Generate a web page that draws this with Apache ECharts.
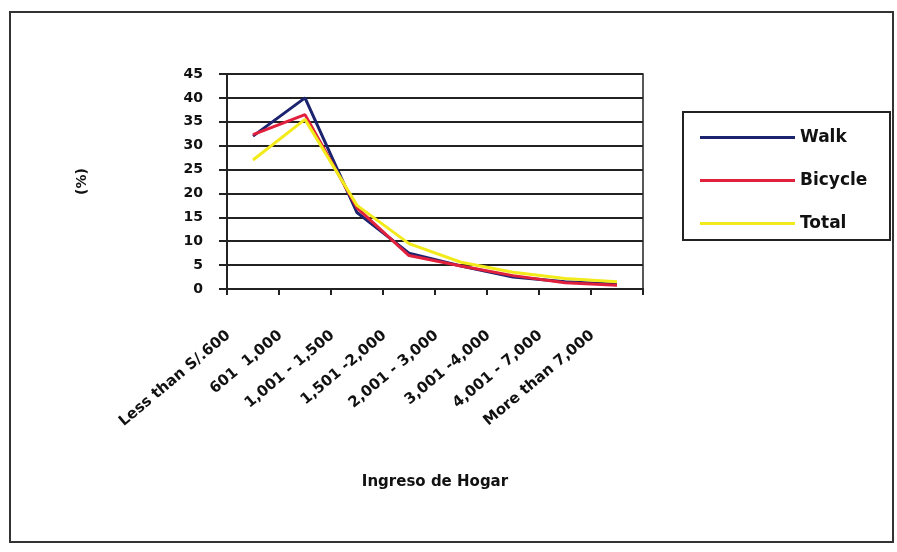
<!DOCTYPE html>
<html>
<head>
<meta charset="utf-8">
<script src="https://cdn.jsdelivr.net/npm/echarts@6/dist/echarts.min.js"></script>
<style>html,body{margin:0;padding:0;background:#fff;}#c{width:897px;height:552px;}</style>
</head>
<body>
<div id="c"></div>
<script>
const categories = ["Less than S/.600", "601  1,000", "1,001 - 1,500", "1,501 -2,000", "2,001 - 3,000", "3,001 -4,000", "4,001 - 7,000", "More than 7,000"];
const walk = [32, 40, 16, 7.5, 4.8, 2.5, 1.5, 1];
const bicycle = [32.3, 36.5, 17, 7, 4.8, 2.8, 1.3, 0.8];
const total = [27, 35.5, 17.5, 9.5, 5.6, 3.5, 2.2, 1.5];
const yTicks = [0, 5, 10, 15, 20, 25, 30, 35, 40, 45];

const FONT = "DejaVu Sans";
const chart = echarts.init(document.getElementById('c'), null, {renderer: 'canvas'});
chart.setOption({
  animation: false,
  backgroundColor: '#fff',
  graphic: [
    {type: 'rect', shape: {x: 10, y: 12, width: 883, height: 530}, style: {fill: 'none', stroke: '#333', lineWidth: 2}, z: -1},
    {type: 'rect', shape: {x: 683, y: 112, width: 207, height: 128}, style: {fill: '#fff', stroke: '#222', lineWidth: 2}, z: 0}
  ],
  grid: {left: 227, right: 254, top: 74, bottom: 263, show: true, borderColor: '#222', borderWidth: 1.5, backgroundColor: 'transparent'},
  legend: {
    orient: 'vertical', left: 695, top: 124, itemGap: 26, itemWidth: 95, itemHeight: 3,
    icon: 'rect', z: 5,
    textStyle: {fontFamily: FONT, fontWeight: 'bold', fontSize: 17, color: '#111'},
    data: ['Walk', 'Bicycle', 'Total']
  },
  xAxis: {
    type: 'category', data: categories, boundaryGap: true,
    name: 'Ingreso de Hogar', nameLocation: 'middle', nameGap: 186,
    nameTextStyle: {fontFamily: FONT, fontWeight: 'bold', fontSize: 15, color: '#111'},
    axisLine: {lineStyle: {color: '#222', width: 2}},
    axisTick: {show: true, alignWithLabel: false, length: 6, lineStyle: {color: '#222', width: 2}},
    axisLabel: {rotate: 40, interval: 0, margin: 24, padding: [0, 32, 0, 0], fontFamily: FONT, fontWeight: 'bold', fontSize: 15, color: '#111'},
    splitLine: {show: false}
  },
  yAxis: {
    type: 'value', min: 0, max: 45, interval: 5,
    name: '(%)', nameLocation: 'middle', nameGap: 138, nameRotate: 90,
    nameTextStyle: {fontFamily: FONT, fontWeight: 'bold', fontSize: 14, color: '#111'},
    axisLine: {show: true, lineStyle: {color: '#222', width: 2}},
    axisTick: {show: true, length: 8, lineStyle: {color: '#222', width: 2}},
    axisLabel: {margin: 24, fontFamily: FONT, fontWeight: 'bold', fontSize: 14, color: '#111',
      formatter: v => yTicks.includes(v) ? String(v) : ''},
    splitLine: {show: true, lineStyle: {color: '#222', width: 2}}
  },
  series: [
    {name: 'Walk', type: 'line', data: walk, showSymbol: false, symbol: 'none', lineStyle: {color: '#1c2470', width: 3}, itemStyle: {color: '#1c2470'}},
    {name: 'Bicycle', type: 'line', data: bicycle, showSymbol: false, symbol: 'none', lineStyle: {color: '#e0203c', width: 3}, itemStyle: {color: '#e0203c'}},
    {name: 'Total', type: 'line', data: total, showSymbol: false, symbol: 'none', lineStyle: {color: '#f2ea1a', width: 3}, itemStyle: {color: '#f2ea1a'}}
  ]
});
</script>
</body>
</html>
